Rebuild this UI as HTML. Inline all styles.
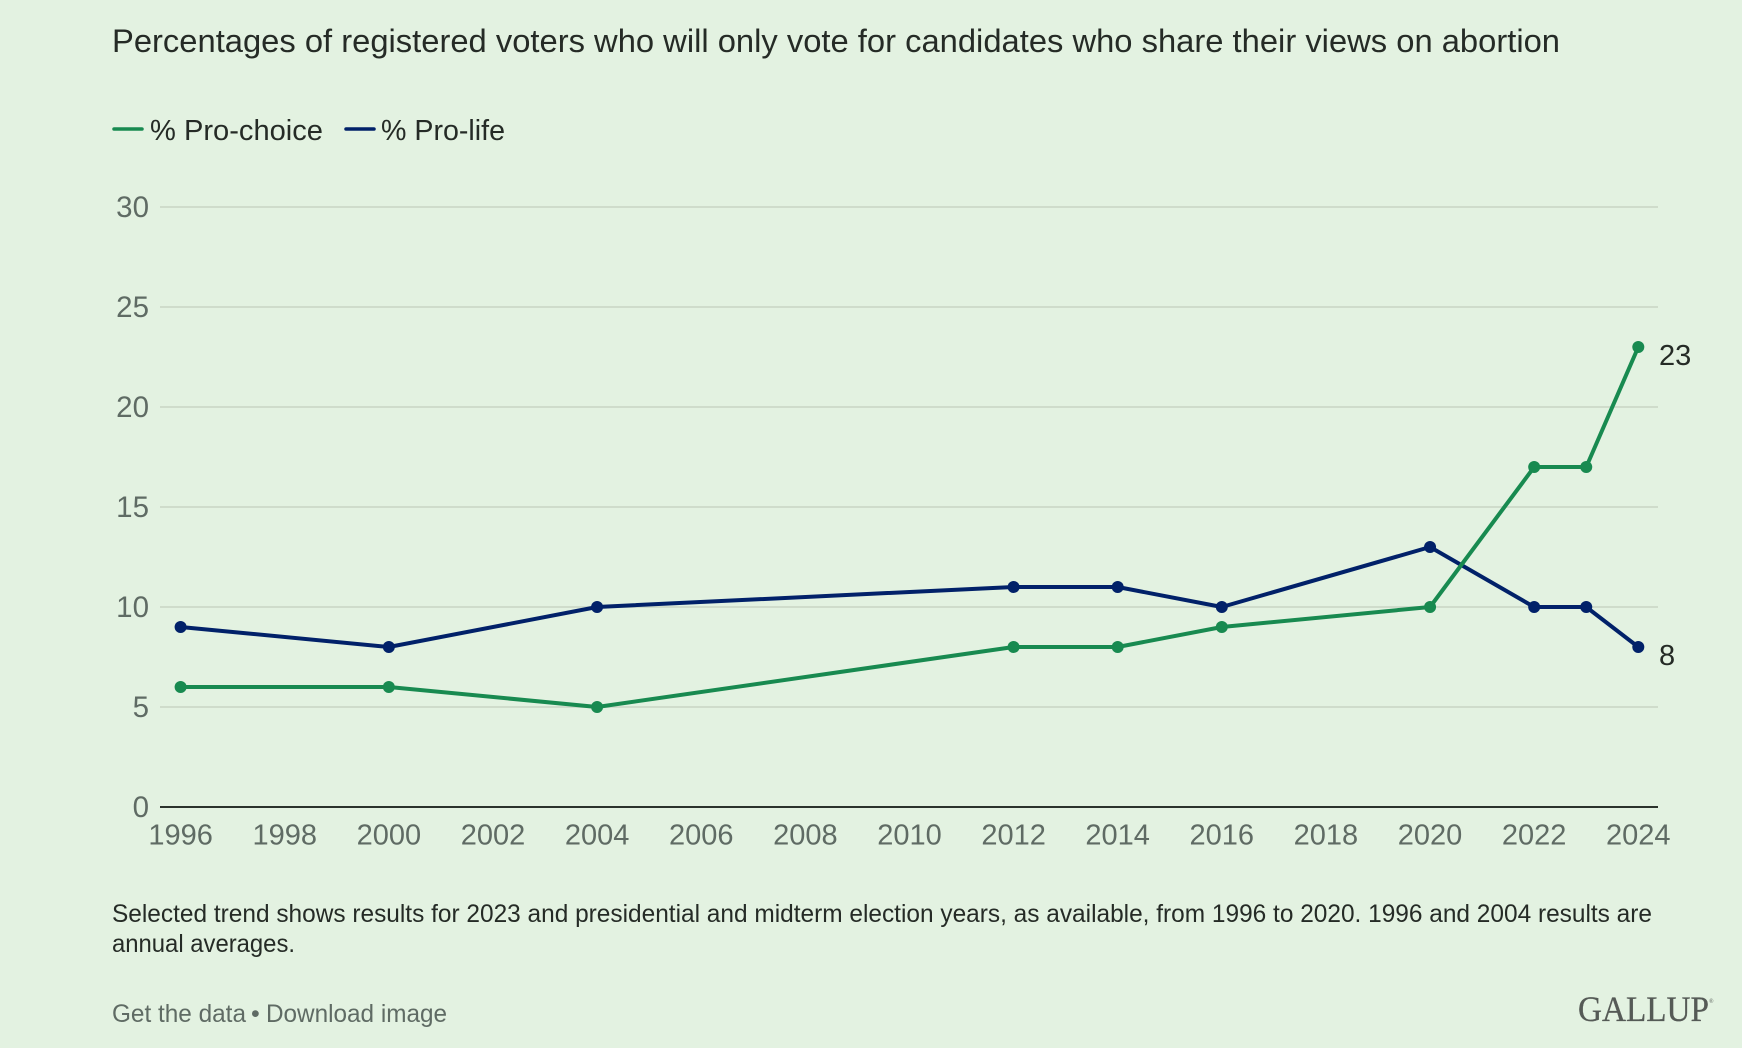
<!DOCTYPE html>
<html lang="en">
<head>
<meta charset="utf-8">
<title>Percentages of registered voters who will only vote for candidates who share their views on abortion</title>
<style>
html,body{margin:0;padding:0;background:#e3f2e1;}
svg{display:block;font-family:"Liberation Sans",sans-serif;}
</style>
</head>
<body>
<svg id="chart" xmlns="http://www.w3.org/2000/svg" width="1742" height="1048" viewBox="0 0 1742 1048">
  <rect x="0" y="0" width="1742" height="1048" fill="#e3f2e1"/>
  <text x="112" y="52" font-size="32.5" fill="#252b26" textLength="1448" lengthAdjust="spacingAndGlyphs">Percentages of registered voters who will only vote for candidates who share their views on abortion</text>

  <line x1="114" y1="129" x2="142" y2="129" stroke="#188a50" stroke-width="3.5" stroke-linecap="round"/>
  <text x="150" y="140" font-size="29" fill="#252b26" textLength="173" lengthAdjust="spacingAndGlyphs">% Pro-choice</text>
  <line x1="346" y1="129" x2="374" y2="129" stroke="#012169" stroke-width="3.5" stroke-linecap="round"/>
  <text x="381" y="140" font-size="29" fill="#252b26" textLength="124" lengthAdjust="spacingAndGlyphs">% Pro-life</text>

  <g id="grid"></g>
  <g id="yticks"></g>
  <g id="xticks"></g>
  <g id="series"></g>
  <g id="endlabels"></g>

  <text x="112" y="922" font-size="25" fill="#252b26" textLength="1540" lengthAdjust="spacingAndGlyphs">Selected trend shows results for 2023 and presidential and midterm election years, as available, from 1996 to 2020. 1996 and 2004 results are</text>
  <text x="112" y="952" font-size="25" fill="#252b26" textLength="183" lengthAdjust="spacingAndGlyphs">annual averages.</text>

  <text x="112" y="1022" font-size="25" fill="#5f6b64" textLength="134" lengthAdjust="spacingAndGlyphs">Get the data</text>
  <text x="251" y="1022" font-size="25" fill="#5f6b64">•</text>
  <text x="266" y="1022" font-size="25" fill="#5f6b64" textLength="181" lengthAdjust="spacingAndGlyphs">Download image</text>

  <text x="1578" y="1021" font-family="'Liberation Serif',serif" font-size="36" fill="#555a56" stroke="#555a56" stroke-width="0.3" textLength="131" lengthAdjust="spacingAndGlyphs">GALLUP</text>
  <text x="1709" y="1003" font-family="'Liberation Serif',serif" font-size="6" fill="#555a56">®</text>
</svg>
<script>
const years = [1996, 2000, 2004, 2012, 2014, 2016, 2020, 2022, 2023, 2024];
const proChoice = [6, 6, 5, 8, 8, 9, 10, 17, 17, 23];
const proLife = [9, 8, 10, 11, 11, 10, 13, 10, 10, 8];
const yTickValues = [0, 5, 10, 15, 20, 25, 30];
const xTickValues = [1996, 1998, 2000, 2002, 2004, 2006, 2008, 2010, 2012, 2014, 2016, 2018, 2020, 2022, 2024];

const NS = 'http://www.w3.org/2000/svg';
const xScale = function (year) { return 180.6 + (year - 1996) * (1638.3 - 180.6) / 28; };
const yScale = function (value) { return 807 - value * 20; };

function make(parent, tag, props, content) {
  const el = document.createElementNS(NS, tag);
  Object.keys(props).forEach(function (k) { el.setAttribute(k, props[k]); });
  if (content !== undefined) el.textContent = content;
  parent.appendChild(el);
  return el;
}

const grid = document.getElementById('grid');
const yticks = document.getElementById('yticks');
const xticks = document.getElementById('xticks');
const seriesGroup = document.getElementById('series');
const endLabels = document.getElementById('endlabels');

yTickValues.forEach(function (v) {
  const isBase = v === 0;
  const line = make(grid, 'line', {
    x1: 160, x2: 1658, y1: yScale(v), y2: yScale(v),
    stroke: isBase ? '#2b332c' : '#cfdccb',
    'stroke-width': 2
  });
  
  
  const label = make(yticks, 'text', {
    x: 149, y: yScale(v) + 10, 'text-anchor': 'end', 'font-size': 29.5, fill: '#5f6b64'
  }, String(v));
  
  
});

xTickValues.forEach(function (yr) {
  const label = make(xticks, 'text', {
    x: xScale(yr), y: 844.5, 'text-anchor': 'middle', 'font-size': 29, fill: '#5f6b64'
  }, String(yr));
  
  
});

function drawSeries(values, color, key) {
  const pts = values.map(function (v, i) { return xScale(years[i]) + ',' + yScale(v); }).join(' ');
  const line = make(seriesGroup, 'polyline', {
    points: pts, fill: 'none', stroke: color, 'stroke-width': 4, 'stroke-linejoin': 'round'
  });
  
  
  values.forEach(function (v, i) {
    const dot = make(seriesGroup, 'circle', {
      cx: xScale(years[i]), cy: yScale(v), r: 6, fill: color
    });
    
    
  });
}
drawSeries(proLife, '#012169', 'pro-life');
drawSeries(proChoice, '#188a50', 'pro-choice');

function endLabel(values, key) {
  const last = values[values.length - 1];
  const label = make(endLabels, 'text', {
    x: 1659, y: yScale(last) + 18, 'font-size': 29, fill: '#252b26'
  }, String(last));
  
  
}
endLabel(proChoice, 'pro-choice');
endLabel(proLife, 'pro-life');
</script>
</body>
</html>
